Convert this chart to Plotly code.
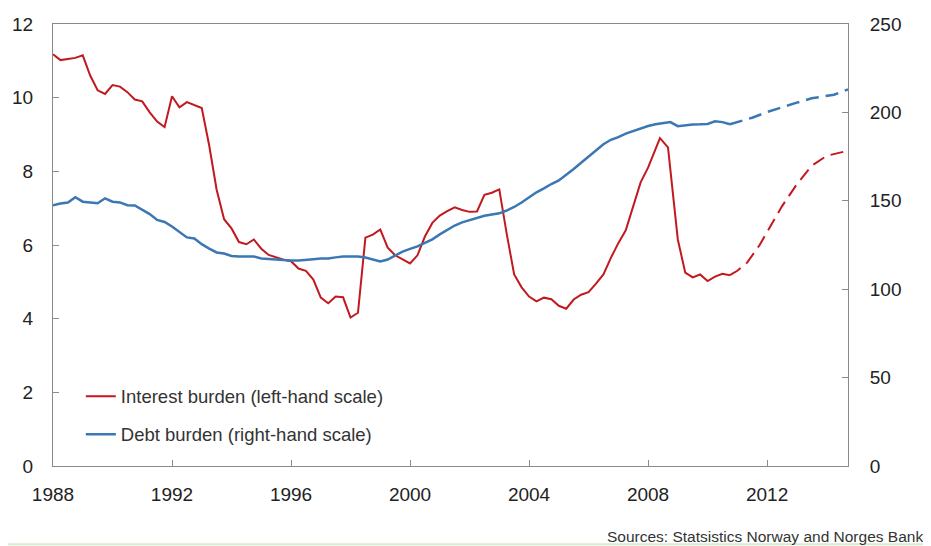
import plotly.graph_objects as go

# Interest burden (left-hand scale), actual
int_x = [1988.0, 1988.25, 1988.5, 1988.75, 1989.0, 1989.25, 1989.5, 1989.75,
         1990.0, 1990.25, 1990.5, 1990.75, 1991.0, 1991.25, 1991.5, 1991.75,
         1992.0, 1992.25, 1992.5, 1992.75, 1993.0, 1993.25, 1993.5, 1993.75,
         1994.0, 1994.25, 1994.5, 1994.75, 1995.0, 1995.25, 1995.5, 1995.75,
         1996.0, 1996.25, 1996.5, 1996.75, 1997.0, 1997.25, 1997.5, 1997.75,
         1998.0, 1998.25, 1998.5, 1998.75, 1999.0, 1999.25, 1999.5, 1999.75,
         2000.0, 2000.25, 2000.5, 2000.75, 2001.0, 2001.25, 2001.5, 2001.75,
         2002.0, 2002.25, 2002.5, 2002.75, 2003.0, 2003.25, 2003.5, 2003.75,
         2004.0, 2004.25, 2004.5, 2004.75, 2005.0, 2005.25, 2005.5, 2005.75,
         2006.0, 2006.25, 2006.5, 2006.75, 2007.0, 2007.25, 2007.5, 2007.75,
         2008.0, 2008.4, 2008.67, 2009.0, 2009.25, 2009.5, 2009.75,
         2010.0, 2010.25, 2010.5, 2010.75]
int_y = [11.18, 11.02, 11.05, 11.08, 11.15, 10.6, 10.2, 10.1,
         10.34, 10.3, 10.15, 9.95, 9.9, 9.6, 9.35, 9.2,
         10.04, 9.74, 9.88, 9.8, 9.72, 8.7, 7.5, 6.7,
         6.45, 6.08, 6.02, 6.15, 5.9, 5.73, 5.66, 5.6,
         5.56, 5.36, 5.3, 5.06, 4.57, 4.42, 4.6, 4.58,
         4.03, 4.16, 6.2, 6.28, 6.42, 5.93, 5.72, 5.62,
         5.5, 5.72, 6.23, 6.6, 6.8, 6.92, 7.02, 6.95,
         6.9, 6.91, 7.36, 7.42, 7.51, 6.3, 5.2, 4.85,
         4.6, 4.47, 4.57, 4.53, 4.35, 4.27, 4.52, 4.65,
         4.72, 4.95, 5.2, 5.65, 6.05, 6.4, 7.05, 7.7,
         8.1, 8.9, 8.65, 6.15, 5.25, 5.12, 5.2,
         5.02, 5.14, 5.22, 5.18]

# Interest burden projection
int_px = [2010.75, 2011.0, 2011.33, 2011.75, 2012.0, 2012.5, 2013.0, 2013.5, 2014.0, 2014.5, 2014.72]
int_py = [5.18, 5.3, 5.52, 6.0, 6.35, 7.05, 7.65, 8.15, 8.42, 8.52, 8.56]

# Debt burden (right-hand scale), actual
debt_x = [1988.0, 1988.25, 1988.5, 1988.75, 1989.0, 1989.25, 1989.5, 1989.75,
          1990.0, 1990.25, 1990.5, 1990.75, 1991.0, 1991.25, 1991.5, 1991.75,
          1992.0, 1992.25, 1992.5, 1992.75, 1993.0, 1993.25, 1993.5, 1993.75,
          1994.0, 1994.25, 1994.5, 1994.75, 1995.0, 1995.25, 1995.5, 1995.75,
          1996.0, 1996.25, 1996.5, 1996.75, 1997.0, 1997.25, 1997.5, 1997.75,
          1998.0, 1998.25, 1998.5, 1998.75, 1999.0, 1999.25, 1999.5, 1999.75,
          2000.0, 2000.25, 2000.5, 2000.75, 2001.0, 2001.25, 2001.5, 2001.75,
          2002.0, 2002.25, 2002.5, 2002.75, 2003.0, 2003.25, 2003.5, 2003.75,
          2004.0, 2004.25, 2004.5, 2004.75, 2005.0, 2005.25, 2005.5, 2005.75,
          2006.0, 2006.25, 2006.5, 2006.75, 2007.0, 2007.25, 2007.5, 2007.75,
          2008.0, 2008.25, 2008.5, 2008.75, 2009.0, 2009.25, 2009.5, 2009.75,
          2010.0, 2010.25, 2010.5, 2010.75]
debt_y = [147.5, 148.5, 149.0, 152.0, 149.5, 149.0, 148.6, 151.4,
          149.5, 149.1, 147.5, 147.4, 145.0, 142.5, 139.2, 138.0,
          135.5, 132.5, 129.3, 128.7, 125.5, 123.0, 120.8, 120.2,
          118.8, 118.5, 118.3, 118.5, 117.4, 117.0, 116.8, 116.5,
          116.2, 116.3, 116.8, 117.0, 117.3, 117.4, 118.0, 118.5,
          118.5, 118.5, 117.9, 117.0, 115.7, 116.8, 119.0, 121.3,
          122.8, 124.2, 126.2, 128.2, 131.0, 133.5, 136.0, 137.8,
          139.0, 140.4, 141.5, 142.2, 142.9, 144.5, 146.5, 149.0,
          152.0, 154.8, 157.0, 159.5, 161.5, 164.5, 168.0, 171.5,
          175.0, 178.5, 182.0, 184.5, 186.0, 188.0, 189.5, 191.0,
          192.3, 193.3, 194.0, 194.5, 192.2, 192.8, 193.2, 193.3,
          193.5, 195.0, 194.5, 193.3]

# Debt burden projection
debt_px = [2010.75, 2011.0, 2011.5, 2012.0, 2012.5, 2013.0, 2013.5, 2014.0, 2014.25, 2014.72]
debt_py = [193.3, 194.5, 197.0, 200.2, 203.0, 205.5, 208.0, 209.5, 210.0, 213.0]

x_ticks = [1988, 1992, 1996, 2000, 2004, 2008, 2012]

RED = "#C1191F"
BLUE = "#3A77B3"
FONT = "Liberation Sans, Arial, sans-serif"
DASH = "13px,7px"

fig = go.Figure()
fig.add_trace(go.Scatter(x=int_x, y=int_y, mode="lines", name="Interest burden (left-hand scale)",
                         line=dict(color=RED, width=2), legendgroup="a", yaxis="y"))
fig.add_trace(go.Scatter(x=int_px, y=int_py, mode="lines", showlegend=False,
                         line=dict(color=RED, width=2, dash=DASH), yaxis="y"))
fig.add_trace(go.Scatter(x=debt_x, y=debt_y, mode="lines", name="Debt burden (right-hand scale)",
                         line=dict(color=BLUE, width=2.5), legendgroup="b", yaxis="y2"))
fig.add_trace(go.Scatter(x=debt_px, y=debt_py, mode="lines", showlegend=False,
                         line=dict(color=BLUE, width=2.5, dash=DASH), yaxis="y2"))

axis_line = "#8a8a8a"
fig.update_layout(
    width=931, height=546,
    margin=dict(l=45, r=91, t=16, b=88),
    paper_bgcolor="white", plot_bgcolor="white",
    font=dict(family=FONT, size=19, color="#222"),
    xaxis=dict(range=[1988, 2014.72], tickvals=x_ticks, ticks="inside", ticklen=6,
               tickcolor=axis_line, showline=True, linecolor=axis_line, linewidth=1,
               mirror=True, showgrid=False, zeroline=False, ticklabelstandoff=11,
               automargin=False),
    yaxis=dict(range=[0, 12], dtick=2, ticks="inside", ticklen=6, tickcolor=axis_line,
               showline=True, linecolor=axis_line, linewidth=1, showgrid=False,
               zeroline=False, ticklabelstandoff=15, automargin=False),
    yaxis2=dict(range=[0, 250], dtick=50, overlaying="y", side="right", ticks="inside",
                ticklen=6, tickcolor=axis_line, showline=True, linecolor=axis_line,
                linewidth=1, showgrid=False, zeroline=False, ticklabelstandoff=17,
                automargin=False),
    legend=dict(x=0.035, y=0.2, xanchor="left", yanchor="top", bgcolor="rgba(0,0,0,0)",
                font=dict(family=FONT, size=18.5, color="#333"), tracegroupgap=11,
                itemwidth=30),
    showlegend=True,
)

fig.add_annotation(text="Sources: Statsistics Norway and Norges Bank", xref="paper", yref="paper",
                   x=1.097, y=-0.1606, xanchor="right", yanchor="middle", showarrow=False,
                   font=dict(family=FONT, size=15.5, color="#333"))
fig.add_shape(type="line", xref="paper", yref="paper", x0=-0.06, x1=1.12, y0=-0.177, y1=-0.177,
              line=dict(color="#d8ecd0", width=2))

fig.write_html("out.html")
